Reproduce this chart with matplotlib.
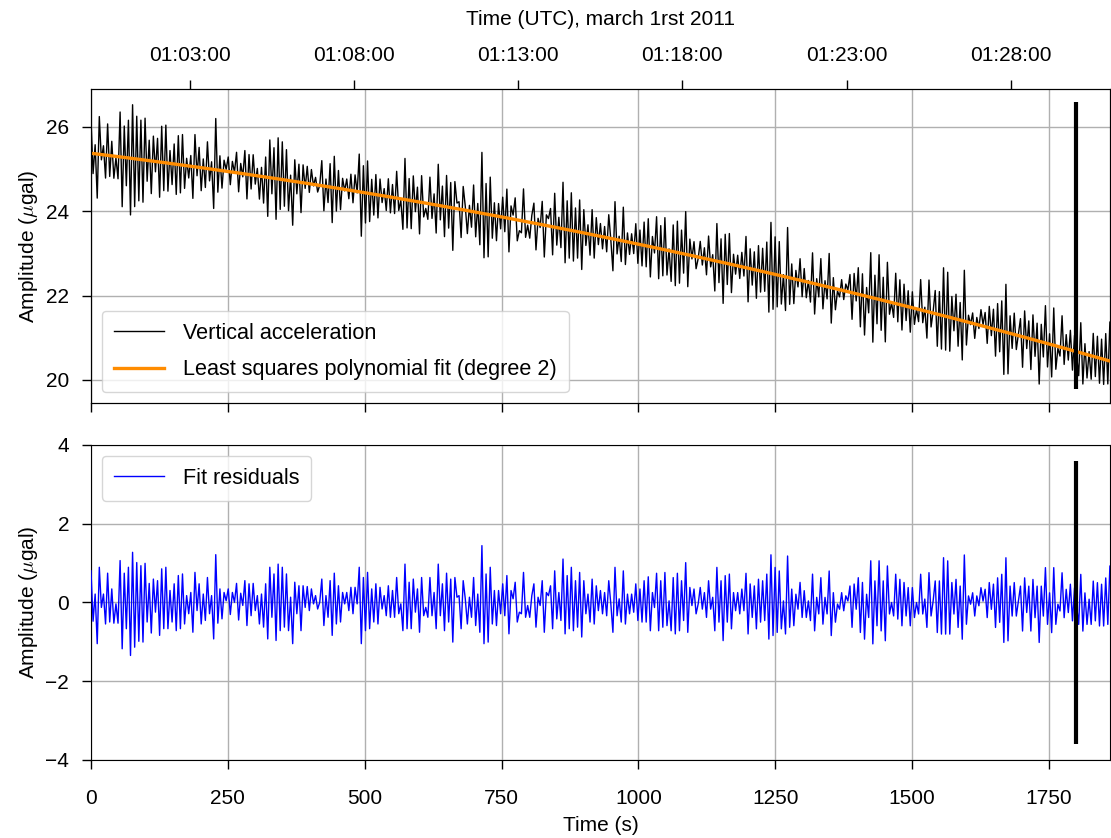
import numpy as np
import matplotlib
matplotlib.use('Agg')
import matplotlib.pyplot as plt

plt.rcParams['font.family'] = ['Liberation Sans', 'DejaVu Sans']
plt.rcParams['mathtext.fontset'] = 'cm'
plt.rcParams['font.size'] = 15

# Fit residuals (µgal), successive extrema in time order
residual_vals = np.array([
    0.79, -0.49, 0.2, -1.06, 0.88, -0.14, 0.2, -0.56, 0.73, -0.51, 0.33, -0.54, -0.05, -0.54, 1.05, -1.19,
    0.73, -0.68, 0.88, -1.36, 1.26, -1.15, 1.0, -1.0, 0.92, -1.02, 0.98, -0.51, 0.47, -0.79, 0.58, -0.26,
    0.54, -0.85, 0.84, -0.68, 0.88, -0.68, 0.29, -0.51, 0.46, -0.73, 0.67, -0.68, 0.71, -0.56, 0.16, -0.3, 0.24,
    -0.77, 0.75, -0.22, 0.46, -0.56, 0.2, -0.47, 0.62, -0.3, 0.16, -0.94, 1.2, -0.54, 0.33, -0.43, 0.24, 0.03,
    0.33, -0.32, 0.24, -0.01, 0.47, -0.46, 0.22, -0.09, 0.54, -0.6, 0.46, -0.35, 0.47, -0.22, 0.16, -0.56, 0.2,
    -0.64, 0.46, -0.94, 0.88, -0.39, 0.71, -0.98, 0.96, -0.73, 0.88, -0.64, 0.71, -0.73, 0.12, -1.06,
    0.5, -0.3, 0.41, -0.73, 0.41, -0.14, 0.39, -0.22, 0.33, -0.05, 0.16, -0.18, -0.01, 0.58, -0.6, 0.16, -0.39,
    0.54, -0.85, 0.73, -0.56, 0.41, -0.51, 0.24, -0.05, 0.24, -0.22, 0.37, -0.3, 0.37, -0.05, 0.88, -1.06, 0.62,
    -0.73, 0.75, -0.68, 0.33, -0.51, 0.46, -0.56, 0.37, -0.18, 0.16, -0.35, 0.41, -0.39, 0.29, -0.39,
    0.62, -0.3, -0.05, -0.73, 0.96, -0.68, 0.5, -0.68, 0.58, -0.26, 0.33, -0.77, 0.62, -0.35, -0.14, -0.39, 0.62,
    -0.35, 0.24, -0.68, 0.96, -0.35, 0.46, -0.73, 0.73, -0.51, 0.58, -1.02, 0.62, 0.12, 0.16, -0.68, 0.54, 0.08,
    -0.56, 0.12, -0.39, 0.62, -0.6, 0.2, -0.77, 1.43, -1.06, 0.71, -1.02, 0.88, -0.56, 0.29, -0.6, 0.29, -0.3,
    0.46, -0.35,
    0.67, -0.81, 0.29, 0.08, 0.5, -0.51, -0.26, -0.3, 0.75, -0.39, -0.09, -0.39, 0.16, 0.46, -0.64, 0.12, -0.09,
    0.54, -0.77, 0.24, 0.16, 0.41, -0.68, 0.79, -0.43, 0.24, -0.47, 1.09, -0.81, 0.67, -0.68, 0.88, -0.73, 0.54,
    -0.64, 0.75, -0.89, 0.54, -0.3, 0.2, -0.51, 0.58, -0.56, 0.41, -0.22, 0.29, -0.3, 0.24, -0.35, 0.54, -0.05,
    -0.77, 0.88, -0.35, 0.08, -0.51, 0.79, -0.56, 0.2, -0.3, 0.2, -0.26, 0.46, -0.47, 0.33, -0.51, 0.54, -0.51,
    0.64, -0.73, 0.24, -0.14, 0.73, -0.73, 0.54, -0.64, 0.75, -0.6, 0.03, -0.73, 0.62, -0.81, 0.73, -0.73, 0.54,
    -0.47, 1.0, -0.77, 0.37, -0.09, 0.33, -0.3, -0.05, 0.37, -0.18, 0.24, -0.39, 0.54, -0.18, 0.12, -0.73,
    0.88, -0.51, 0.54, -0.98, 0.67, -0.51, 0.71, -0.68, 0.24, -0.22, 0.24, -0.3, 0.33, -0.22, 0.73, -0.81, 0.46,
    -0.39, 0.41, -0.68, 0.58, -0.51, 0.54, -0.47, 0.71, -0.94, 1.2, -0.85, 0.88, -0.77, 0.79, -0.68, 0.03, -0.81,
    1.17, -0.64, 0.33, -0.6, 0.2, -0.18, 0.5, -0.39, 0.29, -0.39, 0.03, -0.47, 0.71, -0.73, 0.12, -0.3,
    0.62, -0.56, 0.12, -0.3, 0.79, -0.85, 0.24, -0.51, -0.05, -0.18, 0.24, -0.22, 0.16, 0.03, 0.41, -0.64, 0.46,
    -0.18, 0.62, -0.77, 0.5, -0.94, 0.2, -0.39, 1.05, -1.06, 0.54, -0.6, 1.05, -0.73, 0.54, -0.98, 0.92, -0.3,
    -0.01, -0.35, 0.71, -0.43, 0.58, -0.6, 0.5, -0.35, 0.37, -0.6, 0.37, -0.39, -0.01,
    -0.3, 0.71, -0.3, 0.08, -0.64, 0.75, -0.35, 0.03, 0.54, -0.77, 0.54, -0.81, 1.13, -0.81, 1.05, -0.81, 0.5,
    -0.3, 0.58, -0.64, 0.41, -0.94, 1.2, -0.56, 0.16, -0.05, 0.24, -0.35, 0.16, -0.09, 0.37, 0.03, 0.33, -0.39,
    0.5, -0.18, 0.46, -0.64, 0.62, -0.51, 0.71, -1.02, 1.13, -0.98, 0.41, -0.35,
    0.5, -0.35, 0.03, 0.41, -0.73, 0.62, -0.26, 0.41, -0.73, 0.58, -0.39, 0.41, -1.02, 0.41, -0.35, 0.88, -0.56,
    0.24, -0.77, 0.88, -0.56, -0.05, -0.22, 0.75, -0.39, 0.33, -0.26, 0.46, -0.47, 0.37, -0.09, -0.56, 0.71,
    -0.73, 0.24, -0.56, 0.08, -0.56, 0.54, -0.47, 0.5, -0.6, 0.46, -0.6, 0.62, -0.56, 0.92,
])

t_end = 1861.0                      # seconds covered by the record
t = np.linspace(0.0, t_end, residual_vals.size)

# Trend (time s, µgal)
trend_t = [0.0, 930.0, 1861.0]
trend_v = [25.39, 23.42, 20.45]
trend = np.polyval(np.polyfit(trend_t, trend_v, 2), t)

accel = trend + residual_vals
coef = np.polyfit(t, accel, 2)
fit = np.polyval(coef, t)
resid = accel - fit

marker_time = 1800.0
accel_bar = (19.78, 26.6)
resid_bar = (-3.6, 3.6)

utc_ticks_s = [180, 480, 780, 1080, 1380, 1680]
utc_labels = ['01:03:00', '01:08:00', '01:13:00', '01:18:00', '01:23:00', '01:28:00']
x_ticks = [0, 250, 500, 750, 1000, 1250, 1500, 1750]

fig = plt.figure(figsize=(11.11, 8.38), dpi=100)
ax1 = fig.add_axes([0.0819, 0.519, 0.9171, 0.3748])
ax2 = fig.add_axes([0.0819, 0.0931, 0.9171, 0.3759], sharex=ax1)

leg_kw = dict(handlelength=2.3, handletextpad=0.9, labelspacing=0.72, borderpad=0.55,
              fontsize=15.6)

ax1.plot(t, accel, color='black', lw=1.0, label='Vertical acceleration', zorder=3)
ax1.plot(t, fit, color='#ff8c00', lw=2.4, label='Least squares polynomial fit (degree 2)', zorder=4)
ax1.vlines(marker_time, accel_bar[0], accel_bar[1], color='black', lw=3, zorder=5)
ax1.grid(True, color='#b0b0b0', lw=1.0)
ax1.set_axisbelow(True)
ax1.set_ylim(19.45, 26.9)
ax1.set_yticks([20, 22, 24, 26])
ax1.set_ylabel(r'Amplitude ($\mu$gal)')
ax1.tick_params(labelbottom=False)
ax1.legend(loc='lower left', borderaxespad=0.5, **leg_kw)

ax2.plot(t, resid, color='blue', lw=1.0, label='Fit residuals', zorder=3)
ax2.vlines(marker_time, resid_bar[0], resid_bar[1], color='black', lw=3, zorder=5)
ax2.grid(True, color='#b0b0b0', lw=1.0)
ax2.set_axisbelow(True)
ax2.set_ylim(-4, 4)
ax2.set_yticks([-4, -2, 0, 2, 4])
ax2.set_xticks(x_ticks)
ax2.set_xlim(0, t_end)
ax2.set_xlabel('Time (s)', labelpad=6)
ax2.set_ylabel(r'Amplitude ($\mu$gal)')
ax2.legend(loc='upper left', borderaxespad=0.5, **leg_kw)

ax3 = ax1.twiny()
ax3.set_xlim(0, t_end)
ax3.set_xticks(utc_ticks_s)
ax3.set_xticklabels(utc_labels)
ax3.set_xlabel('Time (UTC), march 1rst 2011', labelpad=15)

for ax in (ax1, ax2, ax3):
    ax.tick_params(length=6.7, width=1)
ax1.tick_params(axis='y', pad=9)
ax2.tick_params(axis='y', pad=9)
ax2.tick_params(axis='x', pad=14)
ax3.tick_params(axis='x', pad=10.5)

fig.savefig('out.png', dpi=100)
